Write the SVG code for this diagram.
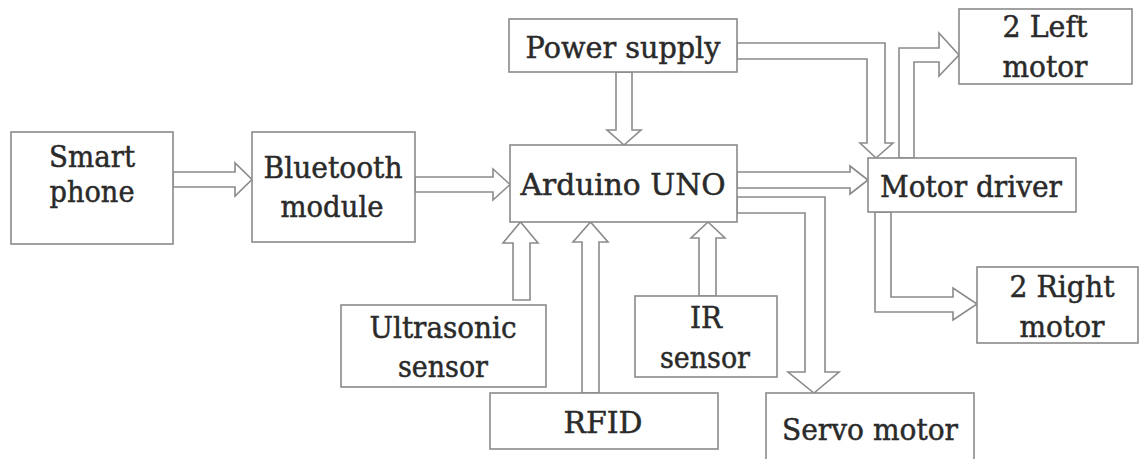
<svg xmlns="http://www.w3.org/2000/svg" width="1141" height="459" viewBox="0 0 1141 459">
<style>
.box{fill:#fff;stroke:#8a8a8a;stroke-width:1.6}
.arr{fill:#fff;stroke:#8a8a8a;stroke-width:1.6;stroke-linejoin:miter}
.t{font-family:'DejaVu Serif',serif;font-size:30px;fill:#2a2a2a;stroke:#2a2a2a;stroke-width:0.5;text-anchor:middle}
</style>
<rect width="1141" height="459" fill="#fff"/>
<g id="connectors">
<polygon class="arr" points="173,172 235,172 235,163 252,179.5 235,196 235,187 173,187"/>
<polygon class="arr" points="415,177 493,177 493,169 510,184.5 493,200 493,192 415,192"/>
<polygon class="arr" points="616,72 616,130 607,130 624,145 641,130 632,130 632,72"/>
<polygon class="arr" points="737,43 885,43 885,143 893,143 876,158 860,143 867,143 867,59 737,59"/>
<polygon class="arr" points="737,172 850,172 850,166 868,180 850,194 850,188 737,188"/>
<polygon class="arr" points="737,197 825,197 825,372 839,372 814,393 788,372 805,372 805,213 737,213"/>
<polygon class="arr" points="899,158 899,48 939,48 939,33 959,55 939,76 939,62 914,62 914,158"/>
<polygon class="arr" points="875,212 875,312 953,312 953,320 977,304 953,288 953,297 891,297 891,212"/>
<polygon class="arr" points="513,300 513,243 503,243 520.5,222 538,243 530,243 530,300"/>
<polygon class="arr" points="582,393 582,242 573,242 590.5,222 608,242 599,242 599,393"/>
<polygon class="arr" points="699,296 699,238 691,238 708,222 725,238 716,238 716,296"/>
</g>
<g id="smartphone"><rect class="box" x="11" y="132" width="162" height="112"/><text class="t" x="92" y="167" textLength="86" lengthAdjust="spacingAndGlyphs">Smart</text><text class="t" x="92" y="202" textLength="85" lengthAdjust="spacingAndGlyphs">phone</text></g>
<g id="bluetooth"><rect class="box" x="252" y="132" width="163" height="110"/><text class="t" x="333" y="178" textLength="139" lengthAdjust="spacingAndGlyphs">Bluetooth</text><text class="t" x="332" y="217" textLength="103" lengthAdjust="spacingAndGlyphs">module</text></g>
<g id="power"><rect class="box" x="509" y="19" width="228" height="53"/><text class="t" x="623" y="58" textLength="195" lengthAdjust="spacingAndGlyphs">Power supply</text></g>
<g id="arduino"><rect class="box" x="510" y="145" width="227" height="77"/><text class="t" x="623" y="195" textLength="205" lengthAdjust="spacingAndGlyphs">Arduino UNO</text></g>
<g id="motordriver"><rect class="box" x="868" y="158" width="208" height="54"/><text class="t" x="971" y="197" textLength="182" lengthAdjust="spacingAndGlyphs">Motor driver</text></g>
<g id="leftmotor"><rect class="box" x="959" y="9" width="173" height="75"/><text class="t" x="1045" y="37" textLength="85" lengthAdjust="spacingAndGlyphs">2 Left</text><text class="t" x="1045" y="77" textLength="85" lengthAdjust="spacingAndGlyphs">motor</text></g>
<g id="rightmotor"><rect class="box" x="977" y="267" width="161" height="76"/><text class="t" x="1062" y="297" textLength="105" lengthAdjust="spacingAndGlyphs">2 Right</text><text class="t" x="1062" y="337" textLength="85" lengthAdjust="spacingAndGlyphs">motor</text></g>
<g id="ultrasonic"><rect class="box" x="341" y="305" width="205" height="82"/><text class="t" x="443" y="338" textLength="147" lengthAdjust="spacingAndGlyphs">Ultrasonic</text><text class="t" x="443" y="377" textLength="90" lengthAdjust="spacingAndGlyphs">sensor</text></g>
<g id="rfid"><rect class="box" x="490" y="393" width="228" height="56"/><text class="t" x="603" y="433" textLength="79" lengthAdjust="spacingAndGlyphs">RFID</text></g>
<g id="irsensor"><rect class="box" x="635" y="296" width="142" height="81"/><text class="t" x="706" y="328" textLength="32" lengthAdjust="spacingAndGlyphs">IR</text><text class="t" x="705" y="368" textLength="90" lengthAdjust="spacingAndGlyphs">sensor</text></g>
<g id="servo"><rect class="box" x="766" y="393" width="208" height="70"/><text class="t" x="870" y="440" textLength="176" lengthAdjust="spacingAndGlyphs">Servo motor</text></g>
</svg>
